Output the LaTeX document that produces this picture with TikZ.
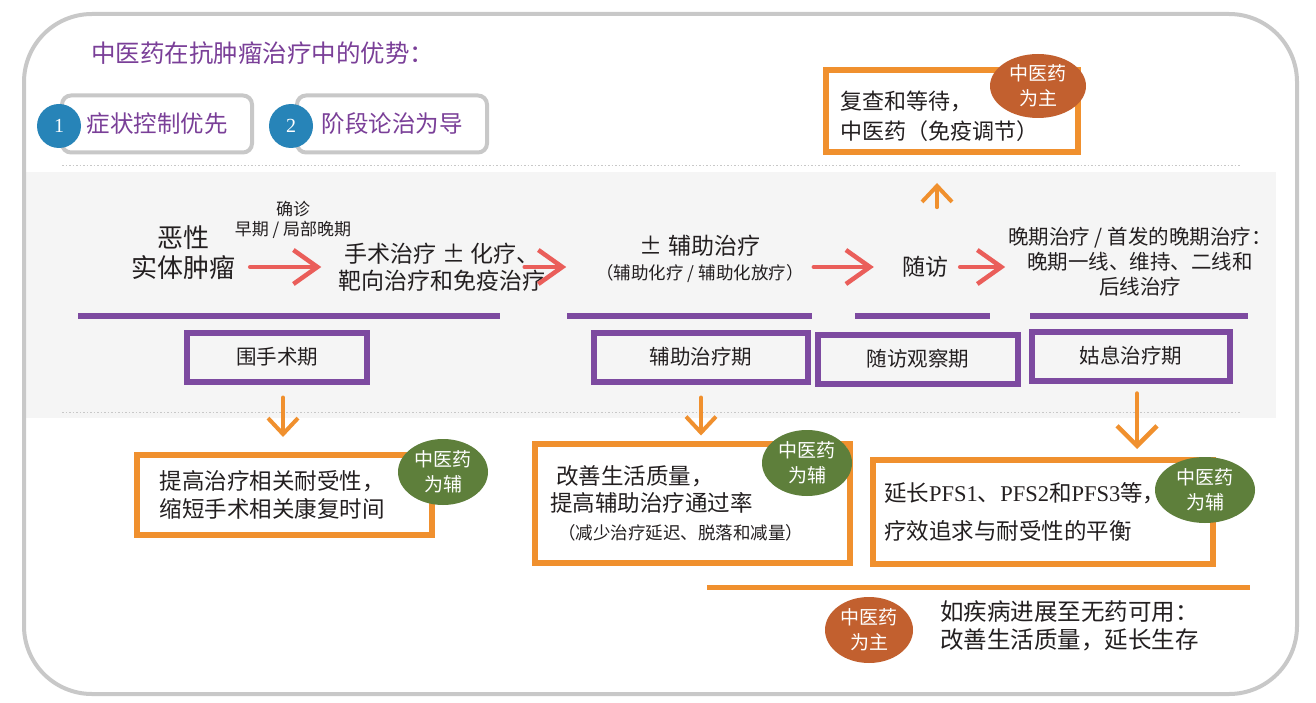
\documentclass[tikz,border=0pt]{standalone}
\usepackage{fontspec}
\setmainfont{Noto Sans CJK SC}
\newfontfamily\serifnum{Liberation Serif}
\usetikzlibrary{arrows.meta,shapes.geometric}
\definecolor{ttl}{HTML}{7A3F98}
\definecolor{purp}{HTML}{7D4AA0}
\definecolor{orng}{HTML}{F0902E}
\definecolor{rarr}{HTML}{EA5E5A}
\definecolor{tbrown}{HTML}{C2602F}
\definecolor{tgreen}{HTML}{5E7F3B}
\definecolor{nblue}{HTML}{2784B8}
\definecolor{bgray}{HTML}{C8C8C8}
\definecolor{band}{HTML}{F5F5F5}
\definecolor{ink}{HTML}{231F20}
\newcommand\fsz[2]{\fontsize{#1}{#2}\selectfont}
\begin{document}
\begin{tikzpicture}[x=1pt,y=-1pt,
  txt/.style={inner sep=0pt, text=ink, align=center},
  numbox/.style={draw=bgray, line width=4pt, rounded corners=9pt, minimum width=190pt, minimum height=57pt, text=ttl, font=\fsz{23.5}{28}},
  numcirc/.style={circle, fill=nblue, minimum size=44pt, inner sep=0pt, text=white, font=\serifnum\fsz{20}{24}},
  obox/.style={draw=orng, line width=6pt, fill=white, align=left, text=ink, inner sep=0pt},
  pbox/.style={draw=purp, line width=6pt, minimum height=49pt, text=ink, font=\fsz{20.5}{24}},
  tcmg/.style={ellipse, fill=tgreen, text=white, inner sep=0pt, align=center, minimum width=90pt, minimum height=66pt, font=\fsz{19}{25}},
  tcmb/.style={ellipse, fill=tbrown, text=white, inner sep=0pt, align=center, minimum width=96pt, minimum height=64pt, font=\fsz{19}{25}},
  redarr/.style={draw=rarr, line width=4.5pt, line cap=round, -{Straight Barb[length=24pt,width=34pt,line width=4.5pt]}},
  oarr/.style={draw=orng, line width=4pt, line cap=round, -{Straight Barb[length=16pt,width=30pt,line width=4pt]}},
  oarrbig/.style={draw=orng, line width=4.5pt, line cap=round, -{Straight Barb[length=20pt,width=40pt,line width=4.5pt]}},
  dotl/.style={draw=bgray, line width=0.8pt, dash pattern=on 1.5pt off 2pt},
  purpline/.style={draw=purp, line width=6pt},
]
\useasboundingbox (0,0) rectangle (1316,703);
\fill[white] (0,0) rectangle (1316,703);
% gray band
\fill[band] (24,172) rectangle (1276,418);
\draw[dotl] (62,165) -- (1240,165);
\draw[dotl] (62,412) -- (1240,412);
% outer frame
\draw[bgray, line width=4pt, rounded corners=68pt] (24,14) rectangle (1297,694);

% title
\node[txt, text=ttl, font=\fsz{24.5}{28}, anchor=west] (title) at (91,53) {中医药在抗肿瘤治疗中的优势：};

% numbered boxes
\node[numbox] (b1) at (157,124) {症状控制优先};
\node[numcirc] (c1) at (59,126) {1};
\node[numbox] (b2) at (392,124) {阶段论治为导};
\node[numcirc] (c2) at (291,126) {2};

% top right box
\node[obox, minimum width=252pt, minimum height=82pt] (fu) at (952,111) {};
\node[txt, align=left, anchor=west, font=\fsz{22}{30}] (futxt) at (840,116) {复查和等待，\\中医药（免疫调节）};
\node[tcmb] (e1) at (1038,86) {中医药\\为主};

% flow row
\node[txt, font=\fsz{26}{30}] (n1) at (183,253) {恶性\\实体肿瘤};
\node[txt, font=\fsz{17}{20}] (dx) at (293,220) {确诊\\早期 / 局部晚期};
\node[txt, font=\fsz{23}{27}] (n2) at (442,267) {手术治疗 ± 化疗、\\靶向治疗和免疫治疗};
\node[txt, font=\fsz{23}{25}] (n3) at (700,259) {± 辅助治疗\\{\fsz{17.5}{25}（辅助化疗 / 辅助化放疗）}};
\node[txt, font=\fsz{23}{27}] (sf) at (925,267) {随访};
\node[txt, font=\fsz{20.5}{25}] (n5) at (1140,262) {晚期治疗 / 首发的晚期治疗：\\晚期一线、维持、二线和\\后线治疗};

\draw[redarr, shorten <=15pt, shorten >=17pt] (n1.east |- n2.west) -- (n2.west);
\draw[redarr, shorten <=-21pt, shorten >=30pt] (n2.east) -- (n2.east -| n3.west);
\draw[redarr, shorten <=10pt, shorten >=28pt] (n3.east |- sf.west) -- (sf.west);
\draw[redarr, shorten <=12pt, shorten >=3pt] (sf.east) -- (sf.east -| n5.west);
\draw[oarr, shorten <=49pt, shorten >=28pt] ([xshift=12pt]sf.north) -- ([xshift=12pt]sf.north |- fu.south);

% purple lines
\draw[purpline] (78,316) -- (500,316);
\draw[purpline] (567,316) -- (812,316);
\draw[purpline] (855,316) -- (990,316);
\draw[purpline] (1030,316) -- (1248,316);

% purple boxes
\node[pbox, minimum width=180pt] (p1) at (277,357) {围手术期};
\node[pbox, minimum width=214pt] (p2) at (701,357) {辅助治疗期};
\node[pbox, minimum width=200pt] (p3) at (918,359) {随访观察期};
\node[pbox, minimum width=198pt] (p4) at (1131,356) {姑息治疗期};

% bottom boxes
\node[obox, minimum width=295pt, minimum height=80pt, text width=250pt, font=\fsz{22.5}{28}] (ba) at (284.5,495) {提高治疗相关耐受性，\\缩短手术相关康复时间};
\node[tcmg] (ga) at (443,472) {中医药\\为辅};
\node[obox, minimum width=315pt, minimum height=119pt, text width=285pt, font=\fsz{22.5}{27.5}] (bb) at (692.5,503) {\hspace*{6pt}改善生活质量，\\提高辅助治疗通过率\\{\fsz{17.5}{27.5}\hspace*{8pt}（减少治疗延迟、脱落和减量）}};
\node[tcmg] (gb) at (807,463) {中医药\\为辅};
\node[obox, minimum width=340pt, minimum height=104pt, text width=318pt, font=\fsz{22.5}{38}] (bc) at (1043,512) {延长{\serifnum PFS1}、{\serifnum PFS2}和{\serifnum PFS3}等，\\疗效追求与耐受性的平衡};
\node[tcmg, minimum width=100pt] (gc) at (1205,490) {中医药\\为辅};

\draw[oarr, shorten <=13pt, shorten >=15pt] ([xshift=6pt]p1.south) -- ([xshift=6pt]p1.south |- ba.north);
\draw[oarr, shorten <=13pt, shorten >=5pt] (p2.south) -- (p2.south |- bb.north);
\draw[oarrbig, shorten <=10pt, shorten >=8pt] ([xshift=6pt]p4.south) -- ([xshift=6pt]p4.south |- bc.north);

% bottom note
\draw[draw=orng, line width=5pt] (707,587) -- (1250,587);
\node[tcmb, minimum width=88pt, minimum height=66pt] (e2) at (869,630) {中医药\\为主};
\node[txt, align=left, anchor=west, font=\fsz{23.5}{28}] (last) at (940,626) {如疾病进展至无药可用：\\改善生活质量，延长生存};
\end{tikzpicture}
\end{document}
